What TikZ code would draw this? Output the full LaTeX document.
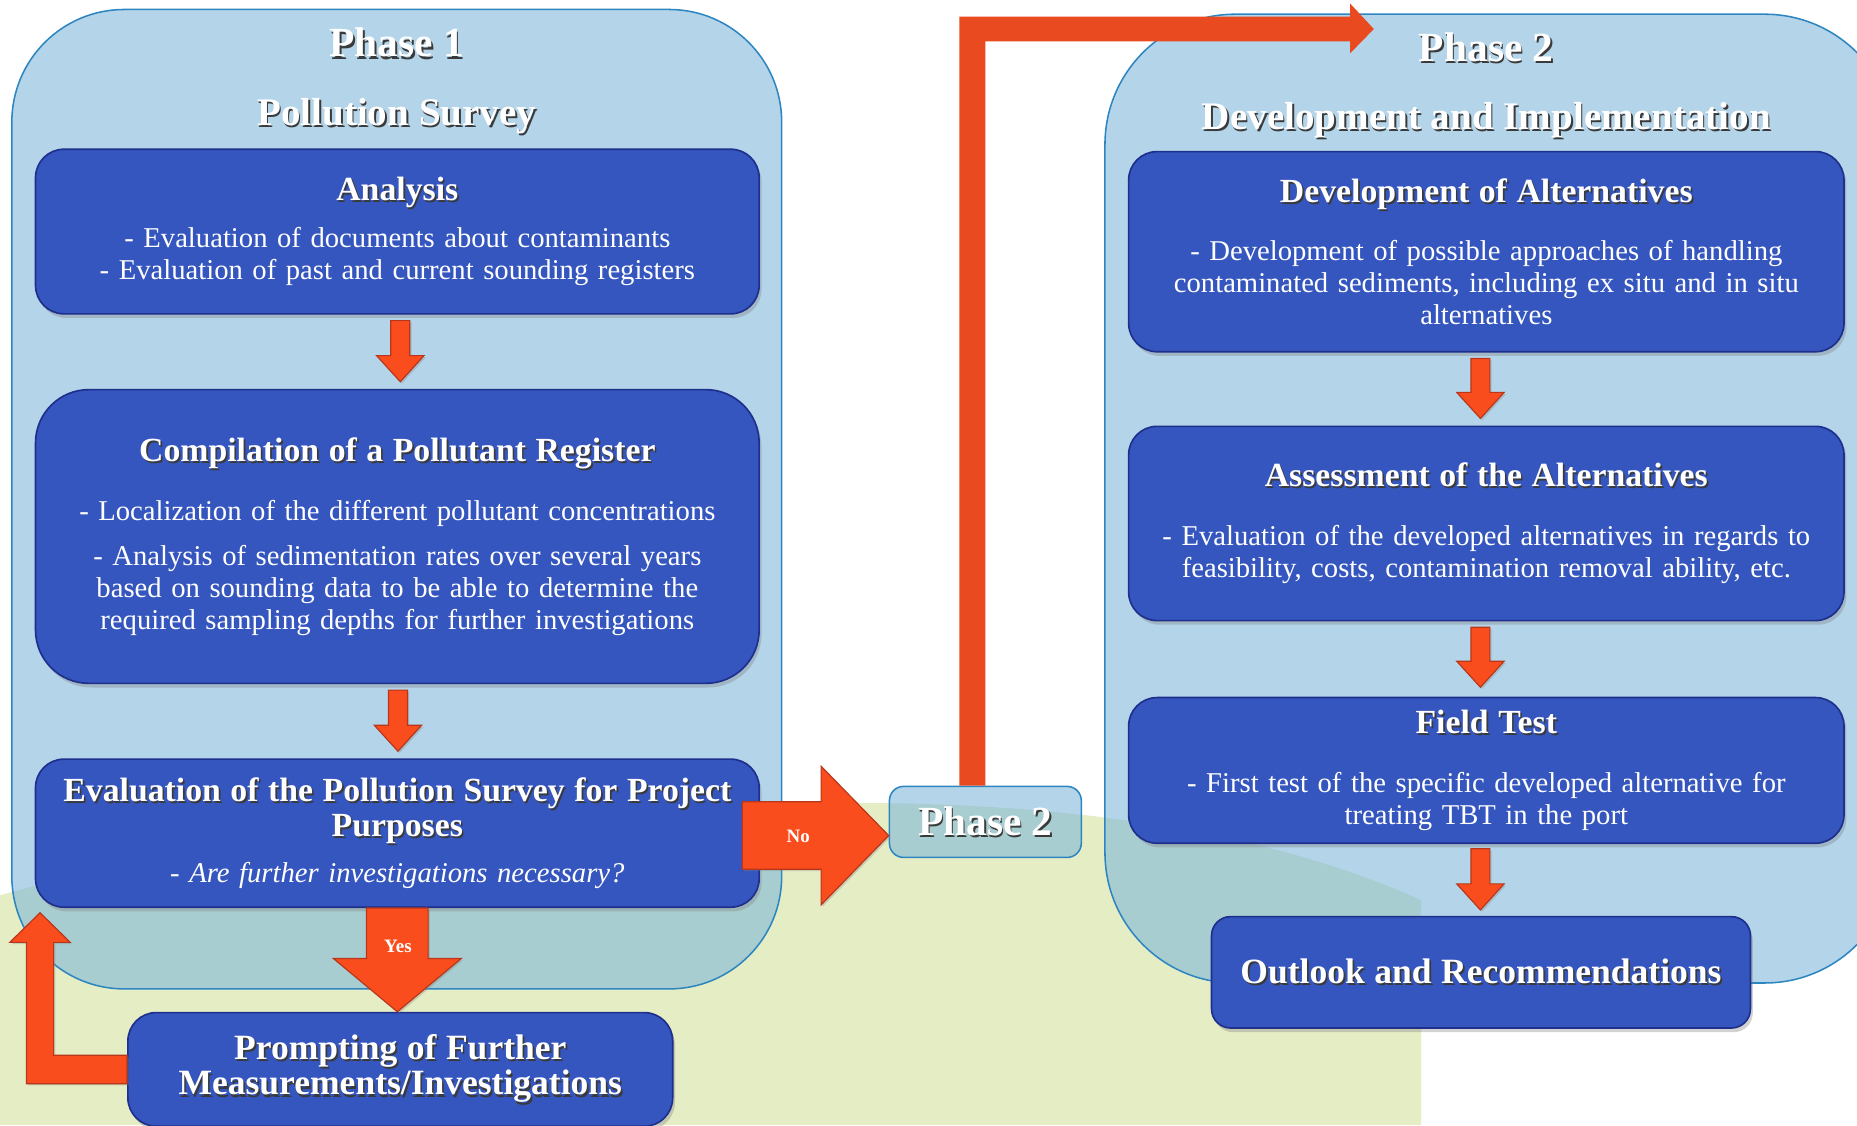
\documentclass[tikz,border=0pt]{standalone}
\usepackage{fontspec}
\setmainfont{Liberation Serif}
\usetikzlibrary{calc,shadows}
\definecolor{boxfill}{HTML}{3556BE}
\definecolor{boxline}{HTML}{1E2F8C}
\definecolor{contfill}{RGB}{122,181,218}
\definecolor{contline}{HTML}{2E86C1}
\definecolor{greenbg}{HTML}{E5EDC4}
\definecolor{arrfill}{HTML}{F94D1E}
\definecolor{arrline}{HTML}{B9361A}
\definecolor{topfill}{HTML}{EA4A1F}
\definecolor{shadowc}{HTML}{3A3A3A}
\newcommand{\shd}[1]{\leavevmode\rlap{\hspace{1.4pt}\raisebox{-1.8pt}{\textcolor{shadowc}{#1}}}#1}
\newcommand{\ttl}[1]{{\fontsize{28.5}{31}\selectfont\bfseries\shd{#1}}}
\newcommand{\bttl}[1]{{\fontsize{30}{31}\selectfont\bfseries\shd{#1}}}
\newcommand{\bodyf}{\fontsize{24.2}{27}\selectfont}
\newcommand{\dnarrow}[5]{\filldraw[arr] let \p1=(#1), \p2=(#2) in
  (\x1-#3pt,\y1) -- (\x1+#3pt,\y1) -- (\x1+#3pt,\y2+#5pt) -- (\x1+#4pt,\y2+#5pt) -- (\x1,\y2)
  -- (\x1-#4pt,\y2+#5pt) -- (\x1-#3pt,\y2+#5pt) -- cycle;}
\newcommand{\rtarrow}[5]{\filldraw[arr] let \p1=(#1), \p2=(#2) in
  (\x1,\y1-#3pt) -- (\x1,\y1+#3pt) -- (\x2-#5pt,\y1+#3pt) -- (\x2-#5pt,\y1+#4pt) -- (\x2,\y1)
  -- (\x2-#5pt,\y1-#4pt) -- (\x2-#5pt,\y1-#3pt) -- cycle;}
\begin{document}
\begin{tikzpicture}[x=1pt,y=-1pt,
  cont/.style={draw=contline, line width=1.3pt, fill=contfill, fill opacity=0.57, text opacity=1, inner sep=0pt},
  ibox/.style={draw=boxline, line width=1.4pt, fill=boxfill, rounded corners=24pt, text=white,
    align=center, inner sep=0pt, font=\bodyf,
    drop shadow={shadow xshift=2pt, shadow yshift=-3.5pt, opacity=0.35}},
  hd/.style={text=white, font=\fontsize{33}{38}\selectfont\bfseries, inner sep=0pt},
  arr/.style={fill=arrfill, draw=arrline, line width=1pt, line join=miter,
    drop shadow={shadow xshift=1.5pt, shadow yshift=-1.5pt, opacity=0.3}},
  topc/.style={fill=topfill},
  lab/.style={text=white, font=\fontsize{16}{18}\selectfont\bfseries, inner sep=0pt}]
\useasboundingbox (0,0) rectangle (1568,950);
\clip (0,0) rectangle (1568,950);
\fill[white] (0,0) rectangle (1568,950);
% green background
\fill[greenbg] (0,756) .. controls (200,700) and (450,678) .. (720,678)
  .. controls (950,678) and (1100,715) .. (1200,760) -- (1200,950) -- (0,950) -- cycle;
% containers
\node[cont, rounded corners=95pt, minimum width=650pt, minimum height=827pt] (ph1) at (335,421.5) {};
\node[cont, rounded corners=110pt, minimum width=667pt, minimum height=818pt] (ph2) at (1266.5,421) {};
% headings
\node[hd, font=\fontsize{35}{40}\selectfont\bfseries] (p1t) at (335,37) {\shd{Phase 1}};
\node[hd] (p1s) at (335,99) {\shd{Pollution Survey}};
\node[hd, font=\fontsize{35}{40}\selectfont\bfseries] (p2t) at (1255,41) {\shd{Phase 2}};
\node[hd] (p2sub) at (1255,102) {\shd{Development and Implementation}};
% inner boxes phase 1
\node[ibox, text width=600pt, minimum width=611pt, minimum height=139pt] (ana) at (335.5,195.5)
  {\ttl{Analysis}\\[13pt]- Evaluation of documents about contaminants\\- Evaluation of past and current sounding registers};
\node[ibox, rounded corners=45pt, text width=600pt, minimum width=611pt, minimum height=248pt] (comp) at (335.5,453)
  {\ttl{Compilation of a Pollutant Register}\\[23pt]- Localization of the different pollutant concentrations\\[11pt]- Analysis of sedimentation rates over several years\\based on sounding data to be able to determine the\\required sampling depths for further investigations};
\node[ibox, text width=600pt, minimum width=611pt, minimum height=125pt] (eval) at (335.5,703.5)
  {\ttl{Evaluation of the Pollution Survey for Project}\\[3pt]\ttl{Purposes}\\[12pt]{\itshape - Are further investigations necessary?}};
\node[ibox, text width=450pt, minimum width=460pt, minimum height=96pt] (prompt) at (338,903)
  {\bttl{Prompting of Further}\\[0pt]\bttl{Measurements/Investigations}};
% inner boxes phase 2
\node[ibox, text width=594pt, minimum width=604pt, minimum height=169pt] (dev) at (1255,212.5)
  {\ttl{Development of Alternatives}\\[22pt]- Development of possible approaches of handling\\contaminated sediments, including ex situ and in situ\\alternatives};
\node[ibox, text width=594pt, minimum width=604pt, minimum height=164pt] (assess) at (1255,442)
  {\ttl{Assessment of the Alternatives}\\[23pt]- Evaluation of the developed alternatives in regards to\\feasibility, costs, contamination removal ability, etc.};
\node[ibox, text width=594pt, minimum width=604pt, minimum height=123pt] (field) at (1255,650.5)
  {\ttl{Field Test}\\[23pt]- First test of the specific developed alternative for\\treating TBT in the port};
\node[ibox, rounded corners=16pt, text width=445pt, minimum width=455pt, minimum height=94pt] (outlook) at (1250.5,821)
  {\bttl{Outlook and Recommendations}};
% phase 2 small box
\node[cont, rounded corners=12pt, minimum width=162pt, minimum height=60pt, font=\fontsize{35}{40}\selectfont\bfseries, text=white] (p2s) at (832,694) {\shd{Phase 2}};
% arrows phase 1
\dnarrow{$(ana.south)+(2.5,5)$}{$(comp.north)+(2.5,-6)$}{8}{20}{22}
\dnarrow{$(comp.south)+(0.5,5)$}{$(eval.north)+(0.5,-6)$}{8}{20}{22}
% arrows phase 2
\dnarrow{$(dev.south)+(-5,5)$}{$(assess.north)+(-5,-6)$}{8}{20}{22}
\dnarrow{$(assess.south)+(-5,5)$}{$(field.north)+(-5,-8)$}{8}{20}{22}
\dnarrow{$(field.south)+(-5,4)$}{$(outlook.north)+(-0.5,-5)$}{8}{20}{22}
% yes arrow
\dnarrow{eval.south}{prompt.north}{26}{54}{45}
\node[lab] (yes) at (336,799) {Yes};
% no arrow
\rtarrow{$(eval.east)+(-15,2)$}{p2s.west}{28.5}{58.5}{57}
\node[lab] (no) at (674,706) {No};
% loop arrow back to evaluation
\filldraw[arr] let \p1=(prompt.west), \p2=(eval.south west) in
  (\x1,\y1+12pt) -- (\x2+16pt,\y1+12pt) -- (\x2+16pt,\y2-29pt) -- (\x2+30pt,\y2-29pt)
  -- (\x2+4.5pt,\y2-4pt) -- (\x2-21pt,\y2-29pt) -- (\x2-7pt,\y2-29pt) -- (\x2-7pt,\y1-12pt)
  -- (\x1,\y1-12pt) -- cycle;
% top connector to phase 2
\coordinate (p2in) at (1160,24.5);
\fill[topc] let \p1=(p2s.north), \p2=(p2in) in
  (\x1-22pt,\y1) -- (\x1-22pt,\y2+10.5pt) -- (\x2-20pt,\y2+10.5pt) -- (\x2-20pt,\y2+21.5pt)
  -- (\x2,\y2) -- (\x2-20pt,\y2-20.5pt) -- (\x2-20pt,\y2-10.5pt) -- (\x1,\y2-10.5pt) -- (\x1,\y1) -- cycle;
\end{tikzpicture}
\end{document}
